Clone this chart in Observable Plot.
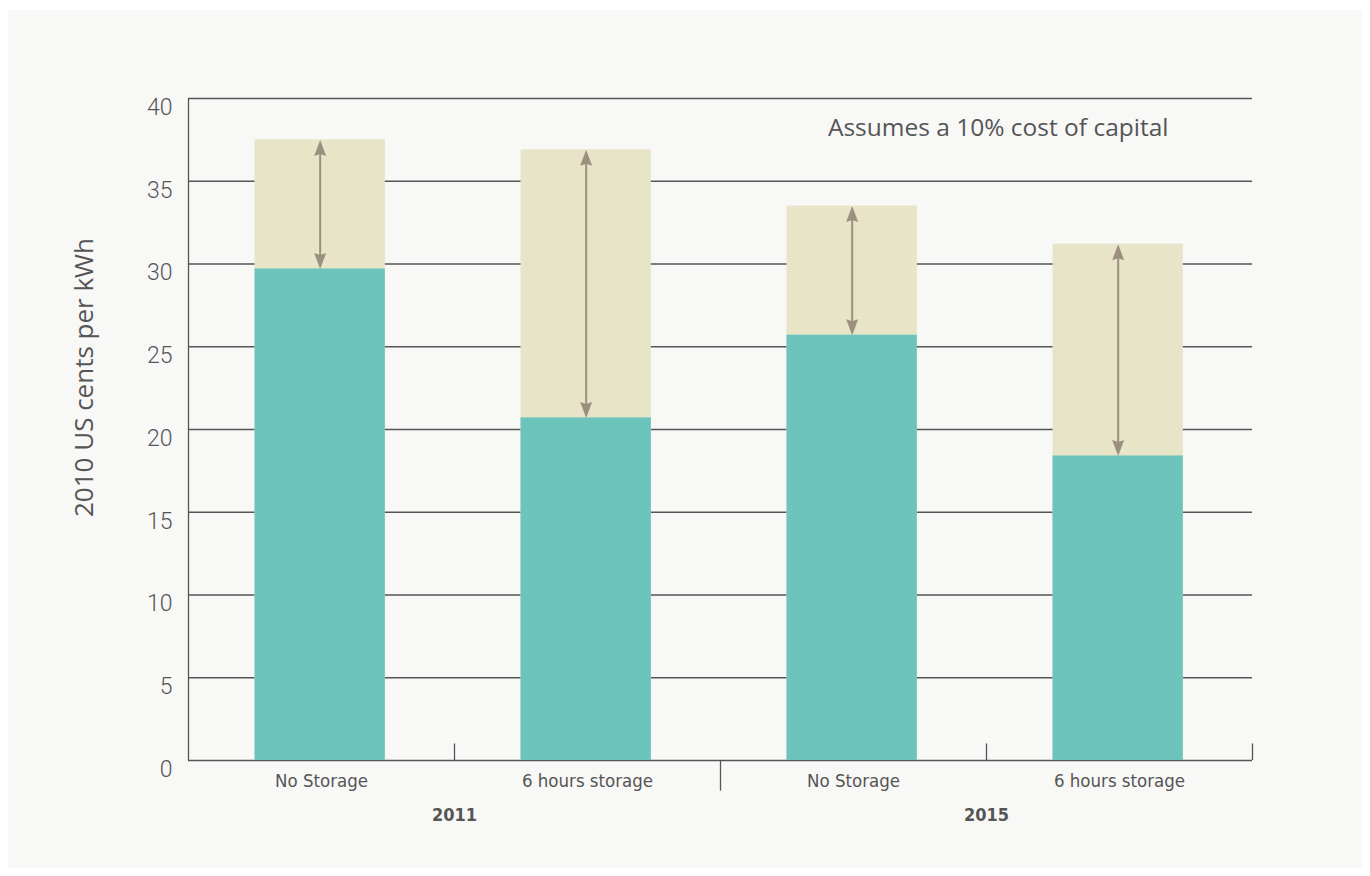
<!DOCTYPE html>
<html>
<head>
<meta charset="utf-8">
<script src="https://cdn.jsdelivr.net/npm/d3@7"></script>
<script src="https://cdn.jsdelivr.net/npm/@observablehq/plot@0.6"></script>
<style>
  html, body { margin: 0; padding: 0; background: #ffffff; }
  #panel { position: absolute; left: 8px; top: 10px; width: 1354px; height: 858px; background: #f8f8f6; }
  #panel svg { display: block; background: transparent; }
</style>
</head>
<body>
<div id="panel"></div>
<script>
// ---- data ----
const years = ["2011", "2011", "2015", "2015"];
const storage = ["No Storage", "6 hours storage", "No Storage", "6 hours storage"];
const baseCost = [29.7, 20.7, 25.7, 18.4];      // teal segment (bottom)
const totalCost = [37.5, 36.9, 33.5, 31.2];     // top of beige segment
const yTicks = [0, 5, 10, 15, 20, 25, 30, 35, 40];
const yLabel = "2010 US cents per kWh";
const note = "Assumes a 10% cost of capital";
const yearGroups = ["2011", "2015"];

// ---- derived tables ----
const rows = storage.map((s, i) => ({i, year: years[i], storage: s, base: baseCost[i], total: totalCost[i]}));
const groups = yearGroups.map((y, g) => ({year: y, center: 2 * g + 1}));

const teal = "#6cc4bd";
const beige = "#e8e4c7";
const arrowCol = "#9b8f80";
const ink = "#555555";
const narrow = "DejaVu Sans Condensed, Liberation Sans Narrow, sans-serif";

// custom arrowhead symbol with its tip at the anchor point
const head = {
  draw(ctx) {
    const w = 12, h = 16, n = 2;
    ctx.moveTo(0, 0);
    ctx.lineTo(-w / 2, h);
    ctx.lineTo(0, h - n);
    ctx.lineTo(w / 2, h);
    ctx.closePath();
  }
};

const chart = Plot.plot({
  width: 1354,
  height: 858,
  marginLeft: 180,
  marginRight: 110,
  marginTop: 88,
  marginBottom: 108,
  style: {background: "transparent"},
  x: {domain: [0, 4], axis: null},
  y: {domain: [0, 40], axis: null},
  marks: [
    // horizontal gridlines
    Plot.ruleY(yTicks, {stroke: ink, strokeWidth: 1.3}),
    // left axis line
    Plot.ruleX([0], {y1: 0, y2: 40, stroke: ink, strokeWidth: 1.3}),
    // short separator ticks above the baseline
    Plot.ruleX([1, 3, 4], {y1: 0, y2: 1, stroke: ink, strokeWidth: 1.3}),
    // group separator below the baseline
    Plot.ruleX([2], {y1: 0, y2: -1.85, stroke: ink, strokeWidth: 1.3}),
    // beige total bars
    Plot.rectY(rows, {x1: d => d.i + 0.25, x2: d => d.i + 0.74, y1: 0, y2: "total", fill: beige}),
    // teal base bars
    Plot.rectY(rows, {x1: d => d.i + 0.25, x2: d => d.i + 0.74, y1: 0, y2: "base", fill: teal}),
    // arrow shafts
    Plot.ruleX(rows, {x: d => d.i + 0.495, y1: "total", y2: "base", stroke: arrowCol, strokeWidth: 2, insetTop: 8, insetBottom: 8}),
    // arrow heads
    Plot.dot(rows, {x: d => d.i + 0.495, y: "total", symbol: head, fill: arrowCol, stroke: "none", r: 6}),
    Plot.dot(rows, {x: d => d.i + 0.495, y: "base", symbol: head, fill: arrowCol, stroke: "none", r: 6, rotate: 180}),
    // y tick labels
    Plot.text(yTicks, {x: 0, y: d => d, text: d => String(d), textAnchor: "end", dx: -16, dy: 9,
      fontSize: 23, fontFamily: "Roboto", fontWeight: 300, fill: ink}),
    // y axis title
    Plot.text([yLabel], {frameAnchor: "left", textAnchor: "middle", dx: -104, dy: -52, rotate: -90, fontSize: 26,
      fontFamily: "Open Sans", fill: ink}),
    // category labels
    Plot.text(rows, {x: d => d.i + 0.5, y: 0, text: "storage", dy: 21, fontSize: 18.5,
      fontFamily: narrow, fill: ink}),
    // year labels
    Plot.text(groups, {x: "center", y: 0, text: "year", dy: 55, fontSize: 18, fontWeight: "bold",
      fontFamily: narrow, fill: ink}),
    // note
    Plot.text([note], {frameAnchor: "top-right", textAnchor: "end", lineAnchor: "middle", dx: -84, dy: 30,
      fontSize: 24.5, fontFamily: "Open Sans", fill: ink})
  ]
});
document.getElementById("panel").appendChild(chart);
</script>
</body>
</html>
